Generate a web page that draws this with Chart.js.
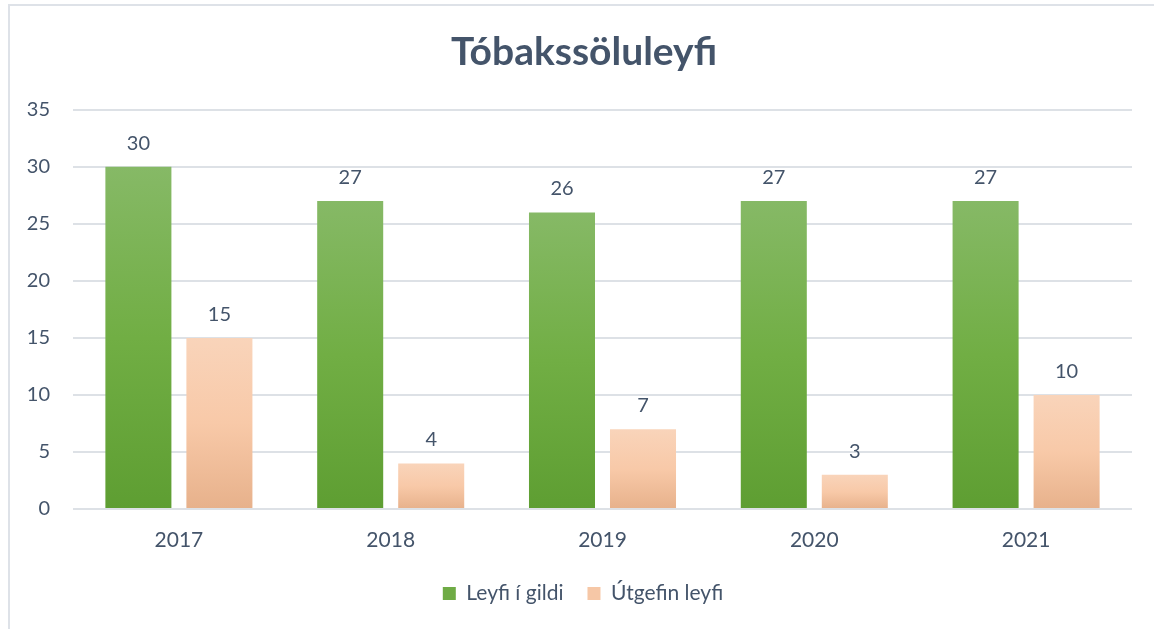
<!DOCTYPE html>
<html>
<head>
<meta charset="utf-8">
<script src="https://cdn.jsdelivr.net/npm/chart.js@4"></script>
<style>
  html, body { margin: 0; padding: 0; background: #fff; }
  #wrap { position: relative; width: 1154px; height: 629px; overflow: hidden; }
  #frame { position: absolute; left: 8px; top: 4px; right: -4px; bottom: -4px; border-left: 2px solid #DEE2E8; border-top: 2px solid #DEE2E8; }
  canvas { position: absolute; left: 0; top: 0; }
</style>
</head>
<body>
<div id="wrap">
  <div id="frame"></div>
  <canvas id="myChart" width="1154" height="629"></canvas>
</div>
<script>
const years = ['2017', '2018', '2019', '2020', '2021'];
const leyfiIGildi = [30, 27, 26, 27, 27];
const utgefinLeyfi = [15, 4, 7, 3, 10];
const yTicks = [0, 5, 10, 15, 20, 25, 30, 35];

const textColor = '#44546A';
const fontFamily = 'Lato, "Open Sans", sans-serif';

// vertical gradient over each bar, from its top down to the axis
function barGradient(ctx, stops) {
    const chart = ctx.chart;
    const area = chart.chartArea;
    const yScale = chart.scales.y;
    if (!area || !yScale || ctx.type !== 'data') return stops[1];
    const top = yScale.getPixelForValue(ctx.raw);
    const bottom = yScale.getPixelForValue(0);
    if (!(bottom - top > 1)) return stops[1];
    const g = chart.ctx.createLinearGradient(0, top, 0, bottom);
    g.addColorStop(0, stops[0]);
    g.addColorStop(0.5, stops[1]);
    g.addColorStop(1, stops[2]);
    return g;
}

const greenStops = ['#86B966', '#71AE44', '#5E9E32'];
const peachStops = ['#F9D4BA', '#F8C9A8', '#E7B18B'];

const valueLabels = {
    id: 'valueLabels',
    afterDatasetsDraw(chart) {
        const c = chart.ctx;
        c.save();
        c.font = '20px ' + fontFamily;
        c.fillStyle = textColor;
        c.textAlign = 'center';
        c.textBaseline = 'alphabetic';
        chart.data.datasets.forEach((ds, i) => {
            chart.getDatasetMeta(i).data.forEach((bar, j) => {
                c.fillText(ds.data[j], bar.x, bar.y - 17);
            });
        });
        c.restore();
    }
};

// title and legend sit centred on the whole chart box, a bit right of the canvas centre
const shiftBlocks = {
    id: 'shiftBlocks',
    afterLayout(chart) {
        if (chart.titleBlock) { chart.titleBlock.left += 8; chart.titleBlock.right += 8; }
        if (chart.legend) { chart.legend.left += 7; chart.legend.right += 7; }
    }
};

const data = {
    labels: years,
    datasets: [
        {
            label: 'Leyfi í gildi',
            data: leyfiIGildi,
            backgroundColor: (ctx) => barGradient(ctx, greenStops),
            barPercentage: 0.815,
            categoryPercentage: 0.765
        },
        {
            label: 'Útgefin leyfi',
            data: utgefinLeyfi,
            backgroundColor: (ctx) => barGradient(ctx, peachStops),
            barPercentage: 0.815,
            categoryPercentage: 0.765
        }
    ]
};

const config = {
    type: 'bar',
    data: data,
    plugins: [valueLabels, shiftBlocks],
    options: {
        responsive: false,
        animation: false,
        layout: { padding: { left: 20, right: 22, top: 22, bottom: 15 } },
        scales: {
            x: {
                afterFit(scale) { scale.height = 50; },
                grid: { display: false, drawTicks: false },
                border: { display: false },
                ticks: { color: textColor, font: { size: 21, family: fontFamily }, padding: 19 }
            },
            y: {
                min: 0,
                max: 35,
                afterFit(scale) { scale.width = 53; },
                afterBuildTicks(scale) { scale.ticks = yTicks.map(v => ({ value: v })); },
                grid: { color: '#DDE1E6', lineWidth: 2, drawTicks: false },
                border: { display: false },
                ticks: { color: textColor, font: { size: 20, family: fontFamily }, padding: 23 }
            }
        },
        plugins: {
            legend: {
                position: 'bottom',
                labels: {
                    color: textColor,
                    font: { size: 21, family: fontFamily },
                    boxWidth: 13,
                    boxHeight: 13,
                    padding: 24,
                    generateLabels(chart) {
                        return chart.data.datasets.map((ds, i) => ({
                            text: ds.label,
                            fillStyle: i === 0 ? '#6FAB45' : '#F6C7A6',
                            strokeStyle: 'transparent',
                            lineWidth: 0,
                            fontColor: textColor,
                            datasetIndex: i
                        }));
                    }
                }
            },
            title: {
                display: true,
                text: 'Tóbakssöluleyfi',
                color: textColor,
                font: { size: 39, weight: 'bold', family: fontFamily },
                padding: { top: 7, bottom: 34 }
            },
            tooltip: { enabled: false }
        }
    }
};

const myChart = new Chart(document.getElementById('myChart'), config);
</script>
</body>
</html>
